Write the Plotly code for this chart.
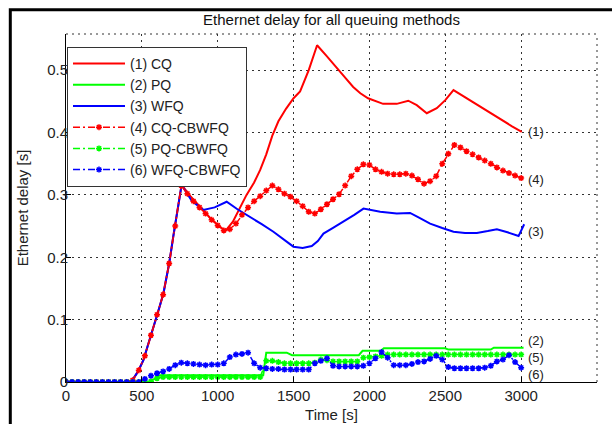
import plotly.graph_objects as go

# ---------------- data ----------------
# (1) CQ  (solid)
t_cq = [0, 400, 435, 475, 510, 545, 576, 610, 642, 680, 707, 762, 820, 883, 950, 1000,
        1050, 1100, 1150, 1190, 1240, 1280, 1320, 1360, 1400, 1450, 1500, 1543, 1600, 1655,
        1720, 1784, 1840, 1893, 1940, 1991, 2040, 2090, 2180, 2256, 2312, 2378, 2444, 2500,
        2554, 2620, 2686, 2760, 2862, 2940, 3004]
v_cq = [0, 0, 0.002, 0.017, 0.035, 0.062, 0.089, 0.115, 0.142, 0.190, 0.233, 0.316, 0.298,
        0.281, 0.263, 0.252, 0.242, 0.257, 0.280, 0.300, 0.320, 0.340, 0.365, 0.395, 0.418,
        0.438, 0.455, 0.466, 0.500, 0.540, 0.522, 0.503, 0.488, 0.473, 0.463, 0.455, 0.450,
        0.446, 0.446, 0.451, 0.444, 0.431, 0.439, 0.452, 0.468, 0.458, 0.449, 0.437, 0.421,
        0.410, 0.401]

# (2) PQ  (solid)
t_pq = [0, 540, 576, 620, 1300, 1320, 1455, 1490, 1930, 1955, 2075, 2095, 2500, 2520,
        2800, 2820, 3016]
v_pq = [0, 0, 0.004, 0.011, 0.011, 0.047, 0.047, 0.043, 0.043, 0.050, 0.050, 0.054,
        0.054, 0.052, 0.052, 0.055, 0.055]

# (3) WFQ  (solid)
t_wfq = [0, 400, 435, 475, 510, 545, 576, 610, 642, 680, 707, 762, 830, 905, 980, 1059,
         1130, 1213, 1290, 1367, 1430, 1499, 1560, 1620, 1660, 1697, 1760, 1829, 1900, 1961,
         2071, 2180, 2268, 2330, 2400, 2480, 2554, 2630, 2708, 2780, 2840, 2910, 2983, 3020]
v_wfq = [0, 0, 0.002, 0.017, 0.035, 0.062, 0.089, 0.115, 0.142, 0.190, 0.233, 0.316,
         0.290, 0.276, 0.280, 0.289, 0.277, 0.265, 0.253, 0.241, 0.229, 0.217, 0.215,
         0.218, 0.226, 0.238, 0.247, 0.257, 0.268, 0.278, 0.273, 0.270, 0.271, 0.263,
         0.254, 0.247, 0.241, 0.239, 0.239, 0.242, 0.245, 0.240, 0.234, 0.253]

# sampling times of the CBWFQ series (s)
t_cb = [0, 40, 80, 120, 160, 200, 240, 280, 320, 360, 400, 440, 480, 520, 560, 600, 640,
        680, 720, 760, 800, 840, 880, 920, 960, 1000, 1040, 1080, 1120, 1160, 1200, 1240,
        1280, 1320, 1360, 1400, 1440, 1480, 1520, 1560, 1600, 1640, 1680, 1720, 1760, 1800,
        1840, 1880, 1920, 1960, 2000, 2040, 2080, 2120, 2160, 2200, 2240, 2280, 2320, 2360,
        2400, 2440, 2480, 2520, 2560, 2600, 2640, 2680, 2720, 2760, 2800, 2840, 2880, 2920,
        2960, 3000]

# (4) CQ-CBWFQ
v_cq_cb = [0, 0, 0, 0, 0, 0, 0, 0, 0, 0, 0,
           0.003, 0.019, 0.042, 0.075, 0.108, 0.140, 0.190, 0.250, 0.315,
           0.302, 0.290, 0.280, 0.270, 0.260, 0.251, 0.243,
           0.245, 0.254, 0.268, 0.280, 0.290, 0.298, 0.307, 0.315,
           0.309, 0.302, 0.297, 0.290, 0.282, 0.273, 0.270,
           0.277, 0.285, 0.293, 0.301, 0.315, 0.330, 0.341, 0.349,
           0.348, 0.341, 0.337, 0.334, 0.333, 0.333, 0.334, 0.331, 0.325, 0.318,
           0.322, 0.330, 0.350, 0.366, 0.380,
           0.376, 0.370, 0.365, 0.360, 0.355, 0.350, 0.344, 0.339, 0.335, 0.331, 0.327]

# (5) PQ-CBWFQ
v_pq_cb = [0, 0, 0, 0, 0, 0, 0, 0, 0, 0, 0, 0, 0, 0,
           0.001, 0.006, 0.008,
           0.008, 0.008, 0.008, 0.008, 0.008, 0.008, 0.008, 0.008,
           0.008, 0.008, 0.008, 0.008, 0.008, 0.008, 0.008, 0.008,
           0.034, 0.034, 0.032, 0.030, 0.030, 0.030, 0.030, 0.030, 0.031,
           0.036, 0.035, 0.033, 0.033, 0.033, 0.033, 0.033,
           0.039, 0.040, 0.041, 0.042, 0.044,
           0.044, 0.044, 0.044, 0.044, 0.044, 0.044, 0.044, 0.044, 0.044, 0.044, 0.044,
           0.044, 0.044, 0.044, 0.044, 0.044, 0.044, 0.044, 0.044, 0.044, 0.044, 0.044]

# (6) WFQ-CBWFQ
v_wfq_cb = [0, 0, 0, 0, 0, 0, 0, 0, 0, 0, 0, 0, 0,
            0.005, 0.010, 0.014, 0.017, 0.021, 0.027, 0.031,
            0.030, 0.029, 0.028, 0.027, 0.028, 0.028, 0.030,
            0.040, 0.044, 0.045, 0.047,
            0.030, 0.023, 0.022, 0.021, 0.021, 0.020, 0.020, 0.020, 0.020, 0.020,
            0.030, 0.034, 0.038,
            0.026, 0.025, 0.025, 0.025, 0.025, 0.026,
            0.030, 0.038, 0.048, 0.039,
            0.027, 0.027, 0.027, 0.029, 0.032, 0.033, 0.037, 0.042, 0.036,
            0.024, 0.022, 0.022, 0.022, 0.022, 0.022, 0.023,
            0.026, 0.033, 0.036, 0.043, 0.032, 0.023]

legend_names = ["(1) CQ", "(2) PQ", "(3) WFQ", "(4) CQ-CBWFQ", "(5) PQ-CBWFQ", "(6) WFQ-CBWFQ"]
end_labels = ["(1)", "(4)", "(3)", "(2)", "(5)", "(6)"]
end_label_y = [0.401, 0.325, 0.241, 0.066, 0.040, 0.012]

x_ticks = [0, 500, 1000, 1500, 2000, 2500, 3000, 3500]
y_ticks = [0, 0.1, 0.2, 0.3, 0.4, 0.5]

# ---------------- figure ----------------
RED, GREEN, BLUE = "#ff0000", "#00ff00", "#0000ff"
FONT = "Liberation Sans, Arial, sans-serif"
TXT = "#222222"

fig = go.Figure()

solid = [(t_cq, v_cq, RED), (t_pq, v_pq, GREEN), (t_wfq, v_wfq, BLUE)]
for i, (tt, vv, c) in enumerate(solid):
    fig.add_trace(go.Scatter(x=tt, y=vv, mode="lines", name=legend_names[i],
                             line=dict(color=c, width=2)))

dashed = [(v_cq_cb, RED), (v_pq_cb, GREEN), (v_wfq_cb, BLUE)]
for i, (vv, c) in enumerate(dashed):
    fig.add_trace(go.Scatter(x=t_cb, y=vv, mode="lines+markers", name=legend_names[3 + i],
                             line=dict(color=c, width=1.5, dash="7px,3px,2px,3px"),
                             marker=dict(symbol="asterisk-open", size=5, color=c,
                                         line=dict(color=c, width=1.5))))

for txt, yv in zip(end_labels, end_label_y):
    fig.add_annotation(x=3030, y=yv, text=txt, showarrow=False, xanchor="left",
                       yanchor="middle", font=dict(size=13, color=TXT, family=FONT))

L, R, T, B = 66, 15, 34, 42
W, H = 612, 424
pw, ph = W - L - R, H - T - B

def px2paper_x(px):
    return (px - L) / pw

def px2paper_y(py):
    return (H - B - py) / ph

# dotted top and right border of the axes
fig.add_shape(type="line", xref="paper", yref="paper", x0=0, x1=1, y0=1, y1=1,
              line=dict(color="#333333", width=1, dash="2px,4px"))
fig.add_shape(type="line", xref="paper", yref="paper", x0=1, x1=1, y0=0, y1=1,
              line=dict(color="#333333", width=1, dash="2px,4px"))
# outer black frame of the picture
fig.add_shape(type="rect", xref="paper", yref="paper",
              x0=px2paper_x(10.3), x1=px2paper_x(640), y0=px2paper_y(450), y1=px2paper_y(9.7),
              line=dict(color="black", width=3), fillcolor="rgba(0,0,0,0)", layer="above")

axis_common = dict(showline=True, linecolor="black", linewidth=1, ticks="inside",
                   ticklen=5, tickcolor="black", showgrid=True, gridcolor="#333333",
                   gridwidth=1, griddash="2px,4px", zeroline=False, automargin=False,
                   tickfont=dict(size=15, color=TXT, family=FONT))

fig.update_xaxes(range=[0, 3500], tickvals=x_ticks, ticktext=[str(v) for v in x_ticks],
                 title=dict(text="Time [s]", font=dict(size=15, color=TXT, family=FONT),
                            standoff=6),
                 **axis_common)
fig.update_yaxes(range=[0, 0.558], tickvals=y_ticks, ticktext=[("%g" % v) for v in y_ticks],
                 ticklabelstandoff=-6,
                 title=dict(text="Ethernet delay [s]", font=dict(size=15, color=TXT, family=FONT),
                            standoff=14),
                 **axis_common)

fig.update_layout(
    width=W, height=H,
    margin=dict(l=L, r=R, t=T, b=B, pad=0, autoexpand=False),
    paper_bgcolor="white", plot_bgcolor="white",
    font=dict(family=FONT, size=15, color=TXT),
    title=dict(text="Ethernet delay for all queuing methods", x=(L + pw / 2) / W,
               xanchor="center", y=1 - 20 / H, yanchor="middle",
               font=dict(size=15, color="#111111", family=FONT)),
    legend=dict(x=px2paper_x(67), y=px2paper_y(47), xanchor="left", yanchor="top",
                bgcolor="white", bordercolor="#333333", borderwidth=1,
                font=dict(size=14, color=TXT, family=FONT), tracegroupgap=0,
                itemwidth=52),
    showlegend=True,
)

fig.write_html("out.html", config={"displayModeBar": False},
               post_script="document.body.style.margin='0px';")
